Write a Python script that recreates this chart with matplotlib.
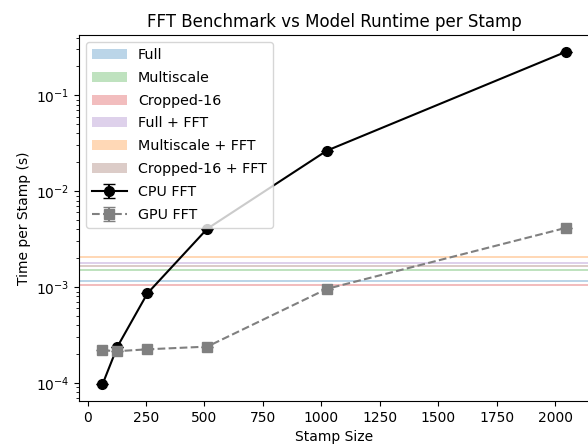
import numpy as np
import matplotlib.pyplot as plt

# stamp sizes and measured times (s)
stamp_sizes = [64, 128, 256, 512, 1024, 2048]
cpu_time = [9.7e-5, 2.4e-4, 8.6e-4, 4.06e-3, 2.65e-2, 2.85e-1]
gpu_time = [2.2e-4, 2.15e-4, 2.25e-4, 2.4e-4, 9.6e-4, 4.16e-3]

# model runtime per stamp (s)
model_names = ['Full', 'Multiscale', 'Cropped-16',
               'Full + FFT', 'Multiscale + FFT', 'Cropped-16 + FFT']
model_times = [1.17e-3, 1.50e-3, 1.06e-3, 1.79e-3, 2.07e-3, 1.66e-3]
model_colors = ['tab:blue', 'tab:green', 'tab:red',
                'tab:purple', 'tab:orange', 'tab:brown']

fig = plt.figure(figsize=(5.88, 4.45), dpi=100)
ax = fig.add_axes([79.3 / 588, 1 - 401 / 445, (589.5 - 79.3) / 588, (401 - 35) / 445])

# thin horizontal bands for each model
for name, t, c in zip(model_names, model_times, model_colors):
    ax.axhspan(t / 10**0.011, t * 10**0.011, color=c, alpha=0.3, lw=0, label=name)

ax.errorbar(stamp_sizes, cpu_time, yerr=np.zeros(len(cpu_time)), fmt='-o',
            color='black', ms=7, capsize=4, label='CPU FFT')
ax.errorbar(stamp_sizes, gpu_time, yerr=np.zeros(len(gpu_time)), fmt='--s',
            color='gray', ms=7, capsize=4, label='GPU FFT')

ax.set_yscale('log')
ax.set_xlabel('Stamp Size')
ax.set_ylabel('Time per Stamp (s)')
ax.set_title('FFT Benchmark vs Model Runtime per Stamp')
ax.legend(loc='upper left', handlelength=2.4, labelspacing=0.62, fontsize=10.3)

plt.savefig('out.png', dpi=100)
